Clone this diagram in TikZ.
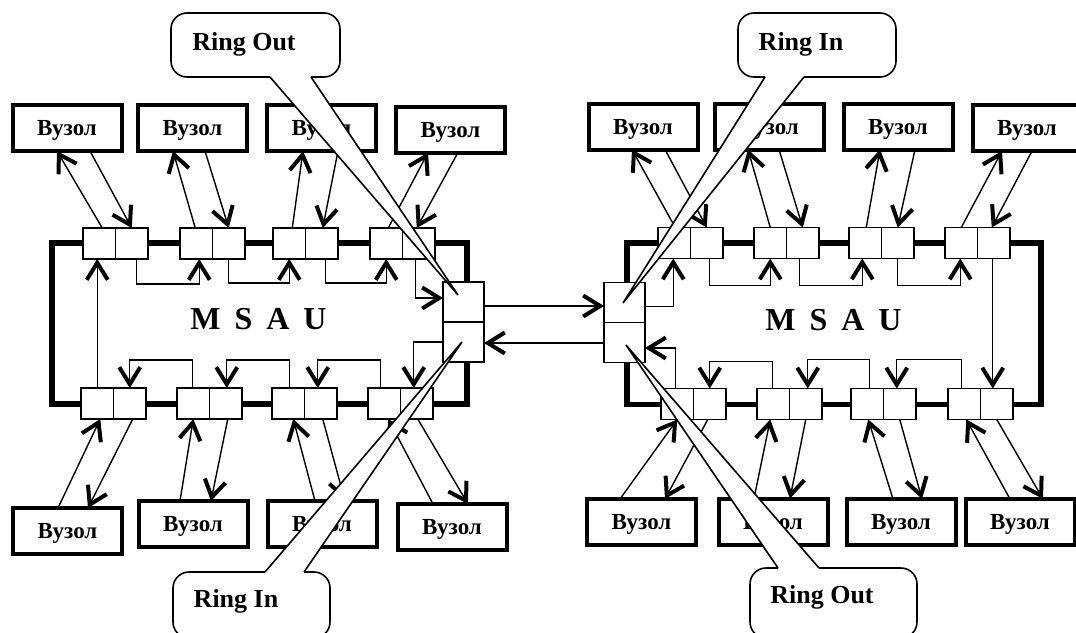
\documentclass[tikz,border=0pt]{standalone}
\usepackage{fontspec}
\setmainfont{Liberation Serif}
\usetikzlibrary{arrows.meta,calc}

\begin{document}
\begin{tikzpicture}[x=0.5pt,y=-0.5pt,
  port/.style={draw, line width=0.75pt, fill=white, minimum width=16.25pt,
    minimum height=15.5pt, inner sep=0pt, outer sep=0pt},
  ringport/.style={draw, line width=0.75pt, fill=white, minimum width=20.5pt,
    minimum height=20pt, inner sep=0pt, outer sep=0pt},
  frame/.style={line width=2.75pt, line join=miter},
  host/.style={draw, line width=2pt, minimum width=54.5pt, minimum height=23pt,
    inner sep=0pt, outer sep=0pt, text depth=0pt,
    font=\fontsize{11.5pt}{13pt}\selectfont\bfseries},
  arr/.style={line width=0.7pt, -{Straight Barb[length=8.5pt,width=10.5pt,line width=2pt]}},
  callout/.style={line width=0.8pt},
  cotext/.style={inner sep=0pt, text depth=0pt, font=\fontsize{13pt}{15pt}\selectfont\bfseries},
  unit/.style={inner sep=0pt, text depth=0pt, font=\fontsize{16pt}{18pt}\selectfont\bfseries}
]
\useasboundingbox (0,0) rectangle (1076,632);
\clip (0,0) rectangle (1076,632);

% ---------- ring ports of the two hubs ----------
\node[ringport] (LPu) at (463.5,302) {};
\node[ringport] (LPl) at (463.5,342) {};
\node[ringport] (RPu) at (624.5,302.5) {};
\node[ringport] (RPl) at (624.5,342.5) {};

% ---------- thick hub outlines ----------
\draw[frame] ($(LPu.north)+(3.5,0)$) |- (52,243) |- ($(LPl.south)+(3.5,42)$) -- ($(LPl.south)+(3.5,0)$);
\draw[frame] ($(RPu.north)+(2.5,0)$) |- (1041,243) |- ($(RPl.south)+(2.5,42)$) -- ($(RPl.south)+(2.5,0)$);
\node[ringport] at (LPu) {};
\node[ringport] at (LPl) {};
\node[ringport] at (RPu) {};
\node[ringport] at (RPl) {};

% ---------- port pairs ----------
\newcommand\portpair[3]{%
  \node[port] (#1a) at (#2,#3) {};
  \node[port, anchor=west] (#1b) at (#1a.east) {};}
\portpair{LT1}{99.25}{243.5}
\portpair{LT2}{196.25}{243.5}
\portpair{LT3}{289.25}{243.5}
\portpair{LT4}{386.25}{243.5}
\portpair{LB1}{97.25}{403.5}
\portpair{LB2}{193.25}{403.5}
\portpair{LB3}{288.25}{403.5}
\portpair{LB4}{384.25}{403.5}
\portpair{RT1}{674.25}{243}
\portpair{RT2}{770.25}{243}
\portpair{RT3}{865.25}{243}
\portpair{RT4}{961.25}{243}
\portpair{RB1}{677.25}{404}
\portpair{RB2}{773.25}{404}
\portpair{RB3}{867.25}{404}
\portpair{RB4}{964.25}{404}

% ---------- stations ----------
\node[host] (TB1) at (67,128) {Вузол\hspace{5pt}};
\node[host] (TB2) at (192.5,128) {Вузол\hspace{5pt}};
\node[host] (TB3) at (321.5,128) {Вузол\hspace{5pt}};
\node[host] (TB4) at (450.5,129.5) {Вузол\hspace{5pt}};
\node[host] (BB1) at (67.5,531) {Вузол\hspace{5pt}};
\node[host] (BB2) at (193,524) {Вузол\hspace{5pt}};
\node[host] (BB3) at (322,524) {Вузол\hspace{5pt}};
\node[host] (BB4) at (452,527) {Вузол\hspace{5pt}};
\node[host] (RTB1) at (643,126.5) {Вузол\hspace{5pt}};
\node[host] (RTB2) at (769,126.5) {Вузол\hspace{5pt}};
\node[host] (RTB3) at (898,126.5) {Вузол\hspace{5pt}};
\node[host] (RTB4) at (1027,128) {Вузол\hspace{5pt}};
\node[host] (RBB1) at (641.5,522) {Вузол\hspace{5pt}};
\node[host] (RBB2) at (773,521.5) {Вузол\hspace{5pt}};
\node[host] (RBB3) at (901,522) {Вузол\hspace{5pt}};
\node[host] (RBB4) at (1020,522) {Вузол\hspace{5pt}};

% ---------- internal ring, left hub ----------
\draw[arr] (LB1a.north) -- (LB1a.north |- LT1a.south);
\draw[arr] ($(LT1b.south)+(5,0)$) -- ++(0,25) -| ($(LT2a.south)+(3,0)$);
\draw[arr] (LT2b.south) -- ++(0,24) -| (LT3a.south);
\draw[arr] ($(LT3b.south)+(4,0)$) -- ++(0,24) -| (LT4a.south);
\draw[arr] ($(LT4b.south)+(-3,0)$) |- ($(LPu.west)+(0,-4)$);
\draw[arr] (LPl.west) -| ($(LB4b.north)+(-3,0)$);
\draw[arr] ($(LB4a.north)+(-4,0)$) -- ++(0,-28) -| ($(LB3b.north)+(-3,0)$);
\draw[arr] ($(LB3a.north)+(1,0)$) -- ++(0,-28) -| ($(LB2b.north)+(1,0)$);
\draw[arr] ($(LB2a.north)+(-1,0)$) -- ++(0,-28) -| (LB1b.north);

% ---------- internal ring, right hub ----------
\draw[arr] ($(RPu.east)+(0,4)$) -| ($(RT1a.south)+(-1,0)$);
\draw[arr] ($(RT1b.south)+(3,0)$) -- ++(0,27) -| (RT2a.south);
\draw[arr] ($(RT2b.south)+(-3,0)$) -- ++(0,27) -| ($(RT3a.south)+(-3,0)$);
\draw[arr] (RT3b.south) -- ++(0,27) -| ($(RT4a.south)+(-1,0)$);
\draw[arr] ($(RT4b.south)+(-1,0)$) -- ($(RB4b.north)+(-4,0)$);
\draw[arr] ($(RB4a.north)+(-3,0)$) -- ++(0,-29) -| ($(RB3b.north)+(-3,0)$);
\draw[arr] ($(RB3a.north)+(2,0)$) -- ++(0,-29) -| ($(RB2b.north)+(2,0)$);
\draw[arr] ($(RB2a.north)+(-1,0)$) -- ++(0,-27) -| (RB1b.north);
\draw[arr] ($(RB1a.north)+(-2,0)$) |- ($(RPl.east)+(0,5.5)$);

% ---------- links between hubs ----------
\draw[arr] ($(LPu.east)+(0,4)$) -- ($(RPu.west)+(0,3.5)$);
\draw[arr] ($(RPl.west)+(0,0.5)$) -- ($(LPl.east)+(0,1)$);

% ---------- station lobes, left hub ----------
\draw[arr] ($(LT1a.north)+(3,0)$) -- ($(TB1.south)+(-10,0)$);
\draw[arr] ($(TB1.south)+(23,0)$) -- (LT1b.north);
\draw[arr] ($(LT2a.north)+(-1,0)$) -- ($(TB2.south)+(-19.5,0)$);
\draw[arr] ($(TB2.south)+(12.5,0)$) -- (LT2b.north);
\draw[arr] ($(LT3a.north)+(3,0)$) -- ($(TB3.south)+(-18.5,0)$);
\draw[arr] ($(TB3.south)+(16.5,0)$) -- ($(LT3b.north)+(1,0)$);
\draw[arr] ($(LT4a.north)+(2,0)$) -- ($(TB4.south)+(-22.5,0)$);
\draw[arr] ($(TB4.south)+(7.5,0)$) -- ($(LT4b.north)+(-2,0)$);

\draw[arr] ($(BB1.north)+(-9.5,0)$) -- ($(LB1a.south)+(3,0)$);
\draw[arr] ($(LB1b.south)+(3,0)$) -- ($(BB1.north)+(20.5,0)$);
\draw[arr] ($(BB2.north)+(-13,0)$) -- (LB2a.south);
\draw[arr] ($(LB2b.south)+(2,0)$) -- ($(BB2.north)+(18,0)$);
\draw[arr] ($(BB3.north)+(-7,0)$) -- ($(LB3a.south)+(5,0)$);
\draw[arr] ($(LB3b.south)+(2,0)$) -- ($(BB3.north)+(23,0)$);
\draw[arr] ($(BB4.north)+(-19,0)$) -- ($(LB4a.south)+(4,0)$);
\draw[arr] ($(LB4b.south)+(1,0)$) -- ($(BB4.north)+(16,0)$);

% ---------- station lobes, right hub ----------
\draw[arr] ($(RT1a.north)+(1,0)$) -- ($(RTB1.south)+(-11,0)$);
\draw[arr] ($(RTB1.south)+(22,0)$) -- (RT1b.north);
\draw[arr] (RT2a.north) -- ($(RTB2.south)+(-21,0)$);
\draw[arr] ($(RTB2.south)+(10,0)$) -- (RT2b.north);
\draw[arr] ($(RT3a.north)+(1,0)$) -- ($(RTB3.south)+(-18,0)$);
\draw[arr] ($(RTB3.south)+(17,0)$) -- (RT3b.north);
\draw[arr] (RT4a.north) -- ($(RTB4.south)+(-25,0)$);
\draw[arr] ($(RTB4.south)+(5,0)$) -- ($(RT4b.north)+(-2,0)$);

\draw[arr] ($(RBB1.north)+(-21.5,0)$) -- (RB1a.south);
\draw[arr] ($(RB1b.south)+(-2,0)$) -- ($(RBB1.north)+(23.5,0)$);
\draw[arr] ($(RBB2.north)+(-19,0)$) -- ($(RB2a.south)+(-3,0)$);
\draw[arr] (RB2b.south) -- ($(RBB2.north)+(17,0)$);
\draw[arr] ($(RBB3.north)+(-8,0)$) -- ($(RB3a.south)+(1,0)$);
\draw[arr] (RB3b.south) -- ($(RBB3.north)+(21,0)$);
\draw[arr] ($(RBB4.north)+(-10,0)$) -- ($(RB4a.south)+(2,0)$);
\draw[arr] (RB4b.south) -- ($(RBB4.north)+(23,0)$);

% ---------- hub labels ----------
\node[unit] (msauL) at (258.5,319) {M\hspace{7pt}S\hspace{7pt}A\hspace{7pt}U};
\node[unit] (msauR) at (833.5,320) {M\hspace{7pt}S\hspace{7pt}A\hspace{7pt}U};

% ---------- callouts ----------
\coordinate (tipA) at ($(LPu.center)+(-5.5,-7)$);
\coordinate (tipB) at ($(LPl.center)+(-1.5,0)$);
\coordinate (tipC) at ($(RPu.center)+(-1.5,0.5)$);
\coordinate (tipD) at ($(RPl.center)+(1.5,2.5)$);

% Ring Out, left hub
\fill[white, rounded corners=8pt] (171,13) rectangle (340,77);
\fill[white] (270,77) -- (tipA) -- (311,77) -- (311,70) -- (270,70) -- cycle;
\draw[callout, rounded corners=8pt] (311,77) -- (340,77) -- (340,13) -- (171,13) -- (171,77) -- (270,77);
\draw[callout] (270,77) -- (tipA) -- (311,77);
\node[cotext] (ringOutL) at (244,41) {Ring Out};

% Ring In, left hub
\fill[white, rounded corners=8pt] (173,572) rectangle (330,638);
\fill[white] (265,572) -- (tipB) -- (304,572) -- (304,580) -- (265,580) -- cycle;
\draw[callout, rounded corners=8pt] (265,572) -- (173,572) -- (173,638) -- (330,638) -- (330,572) -- (304,572);
\draw[callout] (265,572) -- (tipB) -- (304,572);
\node[cotext] (ringInL) at (236,598) {Ring In};

% Ring In, right hub
\fill[white, rounded corners=8pt] (738,13) rectangle (896,77);
\fill[white] (765,77) -- (tipC) -- (804,77) -- (804,70) -- (765,70) -- cycle;
\draw[callout, rounded corners=8pt] (804,77) -- (896,77) -- (896,13) -- (738,13) -- (738,77) -- (765,77);
\draw[callout] (765,77) -- (tipC) -- (804,77);
\node[cotext] (ringInR) at (801,41) {Ring In};

% Ring Out, right hub
\fill[white, rounded corners=8pt] (750,568) rectangle (917,638);
\fill[white] (778,568) -- (tipD) -- (819,568) -- (819,576) -- (778,576) -- cycle;
\draw[callout, rounded corners=8pt] (778,568) -- (750,568) -- (750,638) -- (917,638) -- (917,568) -- (819,568);
\draw[callout] (778,568) -- (tipD) -- (819,568);
\node[cotext] (ringOutR) at (822,594) {Ring Out};
\end{tikzpicture}
\end{document}
